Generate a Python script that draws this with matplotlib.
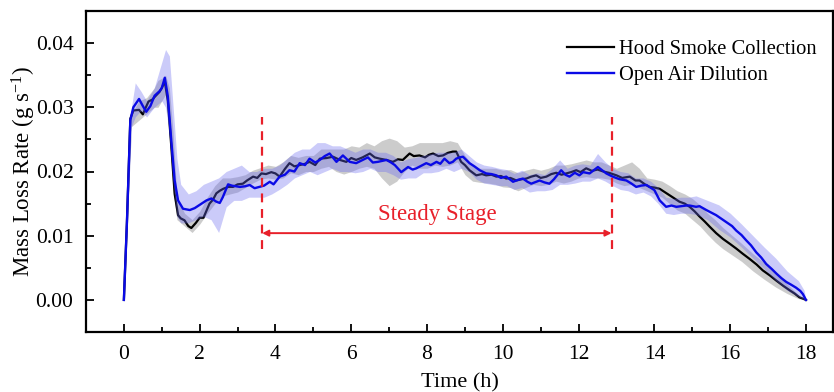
import matplotlib
matplotlib.use('Agg')
import matplotlib.pyplot as plt
from matplotlib.ticker import MultipleLocator, FormatStrFormatter

plt.rcParams['font.family'] = ['Liberation Serif', 'DejaVu Serif']
plt.rcParams['mathtext.fontset'] = 'custom'
plt.rcParams['mathtext.rm'] = 'Liberation Serif'
plt.rcParams['mathtext.it'] = 'Liberation Serif:italic'

# Open air dilution (blue)
open_t = [0.0, 0.08, 0.17, 0.25, 0.4, 0.5, 0.59, 0.7, 0.81, 0.94, 1.0, 1.08, 1.16, 1.25, 1.34,
          1.43, 1.56, 1.74, 1.87, 2.0, 2.18, 2.31, 2.44, 2.53, 2.61, 2.75, 2.85, 3.06, 3.2, 3.32,
          3.45, 3.58, 3.7, 3.85, 3.95, 4.11, 4.25, 4.37, 4.5, 4.64, 4.78, 4.9, 5.05, 5.17, 5.3,
          5.43, 5.61, 5.78, 5.96, 6.13, 6.3, 6.44, 6.57, 6.7, 6.93, 7.05, 7.15, 7.32, 7.5, 7.62,
          7.72, 7.85, 7.98, 8.1, 8.25, 8.35, 8.46, 8.59, 8.68, 8.77, 8.86, 8.95, 9.12, 9.25, 9.39,
          9.56, 9.7, 9.83, 9.95, 10.09, 10.27, 10.4, 10.53, 10.65, 10.75, 10.97, 11.1, 11.23, 11.35,
          11.54, 11.65, 11.76, 11.9, 12.02, 12.12, 12.29, 12.4, 12.51, 12.62, 12.73, 12.9, 13.08,
          13.26, 13.4, 13.52, 13.65, 13.79, 14.0, 14.14, 14.31, 14.45, 14.58, 14.72, 14.84, 14.93,
          15.1, 15.19, 15.37, 15.5, 15.63, 15.9, 16.05, 16.16, 16.3, 16.42, 16.55, 16.69, 16.82,
          16.95, 17.1, 17.22, 17.35, 17.48, 17.6, 17.74, 17.85, 17.92, 18.0]
open_mlr = [0.0, 0.012, 0.0280, 0.0300, 0.0313, 0.0302, 0.0293, 0.0302, 0.0318, 0.0325, 0.0330,
            0.0346, 0.0317, 0.0249, 0.0186, 0.0155, 0.0142, 0.0140, 0.0143, 0.0148, 0.0155, 0.0158,
            0.0153, 0.0151, 0.0160, 0.0180, 0.0178, 0.0176, 0.0177, 0.0179, 0.0174, 0.0176, 0.0178,
            0.0184, 0.0180, 0.0192, 0.0195, 0.0202, 0.0200, 0.0213, 0.0210, 0.0220, 0.0214, 0.0218,
            0.0224, 0.0228, 0.0215, 0.0225, 0.0215, 0.0213, 0.0218, 0.0222, 0.0214, 0.0215, 0.0218,
            0.0214, 0.0210, 0.0199, 0.0207, 0.0203, 0.0205, 0.0209, 0.0213, 0.0210, 0.0215, 0.0212,
            0.0220, 0.0213, 0.0215, 0.0220, 0.0222, 0.0223, 0.0213, 0.0208, 0.0202, 0.0197, 0.0196,
            0.0194, 0.0190, 0.0192, 0.0184, 0.0187, 0.0189, 0.0184, 0.0181, 0.0186, 0.0183, 0.0181,
            0.0188, 0.0202, 0.0195, 0.0192, 0.0198, 0.0194, 0.0199, 0.0197, 0.0202, 0.0207, 0.0202,
            0.0197, 0.0192, 0.0188, 0.0186, 0.0181, 0.0176, 0.0178, 0.0179, 0.0171, 0.0155, 0.0145,
            0.0147, 0.0145, 0.0146, 0.0147, 0.0147, 0.0145, 0.0146, 0.0140, 0.0136, 0.0132, 0.0121,
            0.0115, 0.0108, 0.0101, 0.0093, 0.0085, 0.0074, 0.0066, 0.0056, 0.0048, 0.0041, 0.0034,
            0.0028, 0.0024, 0.0019, 0.0014, 0.0009, 0.0]

# Hood smoke collection (black)
hood_t = [0.0, 0.08, 0.17, 0.25, 0.4, 0.5, 0.58, 0.65, 0.75, 0.81, 0.94, 1.0, 1.08, 1.16, 1.25,
          1.34, 1.43, 1.5, 1.6, 1.7, 1.78, 1.9, 2.0, 2.1, 2.26, 2.35, 2.44, 2.53, 2.62, 2.75, 2.88,
          3.0, 3.14, 3.25, 3.41, 3.52, 3.63, 3.75, 3.89, 4.0, 4.11, 4.25, 4.37, 4.5, 4.64, 4.78, 4.9,
          5.05, 5.17, 5.35, 5.52, 5.7, 5.87, 6.0, 6.13, 6.3, 6.49, 6.62, 6.75, 6.93, 7.1, 7.23, 7.36,
          7.54, 7.65, 7.8, 7.95, 8.05, 8.16, 8.3, 8.42, 8.55, 8.68, 8.77, 8.9, 9.0, 9.12, 9.3, 9.45,
          9.56, 9.7, 9.83, 9.95, 10.09, 10.2, 10.36, 10.5, 10.62, 10.75, 10.88, 11.0, 11.15, 11.28,
          11.41, 11.55, 11.68, 11.8, 11.94, 12.05, 12.2, 12.35, 12.5, 12.65, 12.8, 13.0, 13.15,
          13.35, 13.5, 13.61, 13.75, 13.87, 14.0, 14.14, 14.27, 14.4, 14.53, 14.66, 14.8, 14.93,
          15.06, 15.19, 15.33, 15.46, 15.63, 15.81, 16.0, 16.16, 16.33, 16.51, 16.7, 16.86, 17.05,
          17.22, 17.4, 17.57, 17.7, 17.83, 17.92, 18.0]
hood_mlr = [0.0, 0.012, 0.0282, 0.0295, 0.0296, 0.0289, 0.0300, 0.0309, 0.0312, 0.0316, 0.0324,
            0.0330, 0.0340, 0.0310, 0.0240, 0.0165, 0.0132, 0.0127, 0.0124, 0.0115, 0.0112, 0.0120,
            0.0128, 0.0128, 0.0150, 0.0156, 0.0166, 0.0170, 0.0173, 0.0176, 0.0176, 0.0180, 0.0181,
            0.0186, 0.0192, 0.0190, 0.0197, 0.0196, 0.0199, 0.0197, 0.0192, 0.0204, 0.0213, 0.0208,
            0.0210, 0.0212, 0.0215, 0.0210, 0.0220, 0.0221, 0.0223, 0.0218, 0.0215, 0.0221, 0.0218,
            0.0222, 0.0228, 0.0222, 0.0220, 0.0218, 0.0215, 0.0219, 0.0218, 0.0228, 0.0224, 0.0225,
            0.0222, 0.0226, 0.0228, 0.0224, 0.0225, 0.0229, 0.0231, 0.0231, 0.0215, 0.0210, 0.0202,
            0.0194, 0.0196, 0.0194, 0.0195, 0.0192, 0.0193, 0.0189, 0.0190, 0.0186, 0.0188, 0.0189,
            0.0192, 0.0194, 0.0190, 0.0192, 0.0196, 0.0198, 0.0195, 0.0197, 0.0199, 0.0202, 0.0199,
            0.0205, 0.0201, 0.0203, 0.0200, 0.0198, 0.0194, 0.0190, 0.0192, 0.0186, 0.0186, 0.0180,
            0.0176, 0.0175, 0.0173, 0.0168, 0.0163, 0.0158, 0.0153, 0.0150, 0.0145, 0.0138, 0.0130,
            0.0122, 0.0114, 0.0104, 0.0095, 0.0087, 0.0080, 0.0072, 0.0064, 0.0055, 0.0046, 0.0038,
            0.0030, 0.0022, 0.0015, 0.0010, 0.0004, 0.0002, 0.0]

# spread bands (lower / upper edge)
open_band_t = [0.0, 0.1, 0.2, 0.3, 0.45, 0.6, 0.8, 1.0, 1.1, 1.2, 1.3, 1.4, 1.5, 1.7, 1.9, 2.1,
               2.3, 2.5, 2.7, 2.9, 3.1, 3.3, 3.5, 3.7, 3.9, 4.1, 4.3, 4.5, 4.7, 4.9, 5.1, 5.3, 5.5,
               5.7, 5.9, 6.1, 6.3, 6.5, 6.7, 6.9, 7.1, 7.3, 7.5, 7.7, 7.9, 8.1, 8.3, 8.5, 8.7, 8.9,
               9.1, 9.3, 9.5, 9.7, 9.9, 10.1, 10.3, 10.5, 10.7, 10.9, 11.1, 11.3, 11.5, 11.7, 11.9,
               12.1, 12.3, 12.5, 12.7, 12.9, 13.1, 13.3, 13.5, 13.7, 13.9, 14.1, 14.3, 14.5, 14.7,
               14.9, 15.1, 15.4, 15.7, 16.0, 16.3, 16.6, 16.9, 17.2, 17.5, 17.8, 17.95, 18.0]
open_lo = [0.0, 0.013, 0.027, 0.0285, 0.0295, 0.0285, 0.030, 0.031, 0.030, 0.026, 0.018, 0.013,
           0.012, 0.012, 0.0125, 0.013, 0.0125, 0.0105, 0.0145, 0.0155, 0.0155, 0.016, 0.016,
           0.016, 0.0165, 0.0172, 0.018, 0.019, 0.0195, 0.020, 0.0195, 0.020, 0.0205, 0.020, 0.020,
           0.0198, 0.020, 0.0205, 0.020, 0.020, 0.0195, 0.0188, 0.019, 0.019, 0.0198, 0.0198,
           0.020, 0.0205, 0.020, 0.0205, 0.020, 0.0188, 0.0182, 0.018, 0.0178, 0.0178, 0.0172,
           0.0175, 0.0168, 0.017, 0.017, 0.0172, 0.018, 0.018, 0.0182, 0.0185, 0.0185, 0.019,
           0.0185, 0.0178, 0.0172, 0.017, 0.0165, 0.0168, 0.0162, 0.015, 0.0135, 0.0133, 0.0135,
           0.0135, 0.0133, 0.0125, 0.011, 0.0098, 0.0082, 0.0065, 0.0048, 0.003, 0.0015, 0.0005,
           0.0, 0.0]
open_hi = [0.0, 0.019, 0.030, 0.0338, 0.0325, 0.031, 0.033, 0.037, 0.039, 0.038, 0.030, 0.022,
           0.018, 0.0165, 0.017, 0.018, 0.0185, 0.019, 0.020, 0.0205, 0.021, 0.020, 0.020, 0.0205,
           0.0205, 0.021, 0.022, 0.023, 0.0235, 0.0235, 0.0245, 0.0245, 0.024, 0.024, 0.0235,
           0.023, 0.0235, 0.0235, 0.023, 0.023, 0.0225, 0.0215, 0.022, 0.0222, 0.0225, 0.0228,
           0.023, 0.023, 0.023, 0.0235, 0.0225, 0.0215, 0.021, 0.0208, 0.0205, 0.0203, 0.0197,
           0.0202, 0.0195, 0.0198, 0.0195, 0.0205, 0.0218, 0.0205, 0.021, 0.0212, 0.021, 0.0228,
           0.0215, 0.0205, 0.020, 0.0198, 0.019, 0.019, 0.0185, 0.0175, 0.016, 0.0158, 0.016,
           0.016, 0.0162, 0.0155, 0.0148, 0.0135, 0.0118, 0.010, 0.0082, 0.0065, 0.0045, 0.003,
           0.0015, 0.0]

hood_band_t = [0.0, 0.2, 0.4, 0.6, 0.8, 0.9, 1.0, 1.1, 1.2, 1.3, 1.4, 1.6, 1.8, 2.0, 2.2, 2.4,
               2.6, 2.8, 3.0, 3.2, 3.4, 3.6, 3.8, 4.0, 4.2, 4.4, 4.6, 4.8, 5.0, 5.2, 5.4, 5.6, 5.8,
               6.0, 6.2, 6.4, 6.6, 6.8, 7.0, 7.2, 7.4, 7.6, 7.8, 8.0, 8.2, 8.4, 8.6, 8.8, 9.0, 9.2,
               9.4, 9.6, 9.8, 10.0, 10.2, 10.4, 10.6, 10.8, 11.0, 11.2, 11.4, 11.6, 11.8, 12.0, 12.2,
               12.4, 12.6, 12.8, 13.0, 13.2, 13.4, 13.6, 13.8, 14.0, 14.2, 14.4, 14.6, 14.8, 15.0,
               15.2, 15.4, 15.6, 15.8, 16.0, 16.3, 16.6, 16.9, 17.2, 17.5, 17.8, 18.0]
hood_lo = [0.0, 0.027, 0.028, 0.029, 0.030, 0.030, 0.031, 0.032, 0.026, 0.017, 0.0125, 0.0115,
           0.0105, 0.0118, 0.0135, 0.015, 0.0162, 0.0165, 0.0168, 0.0175, 0.0182, 0.0188, 0.019,
           0.0188, 0.019, 0.0198, 0.0195, 0.020, 0.020, 0.0205, 0.0208, 0.020, 0.0196, 0.020,
           0.0205, 0.0208, 0.0205, 0.019, 0.0178, 0.0185, 0.020, 0.021, 0.0205, 0.0205, 0.021,
           0.0208, 0.021, 0.0215, 0.0195, 0.0185, 0.0183, 0.0182, 0.018, 0.0176, 0.0175, 0.017,
           0.0175, 0.018, 0.0178, 0.018, 0.0185, 0.0182, 0.0185, 0.019, 0.0192, 0.019, 0.019,
           0.0188, 0.0182, 0.0178, 0.018, 0.0175, 0.017, 0.0165, 0.016, 0.015, 0.014, 0.0135,
           0.0125, 0.0115, 0.0102, 0.009, 0.008, 0.0072, 0.006, 0.0045, 0.0032, 0.002, 0.001,
           0.0002, 0.0]
hood_hi = [0.0, 0.029, 0.031, 0.0315, 0.033, 0.0342, 0.0345, 0.035, 0.033, 0.026, 0.016, 0.0135,
           0.0125, 0.0138, 0.016, 0.0178, 0.019, 0.019, 0.0192, 0.0195, 0.0202, 0.0206, 0.021,
           0.0208, 0.0215, 0.0225, 0.0222, 0.0225, 0.0225, 0.0235, 0.0235, 0.0235, 0.0235, 0.024,
           0.0238, 0.0245, 0.024, 0.0248, 0.0252, 0.0248, 0.0238, 0.024, 0.0245, 0.0245, 0.0245,
           0.0245, 0.0248, 0.0245, 0.0225, 0.021, 0.0205, 0.0205, 0.0205, 0.0202, 0.0203, 0.0198,
           0.0202, 0.0205, 0.0202, 0.0205, 0.021, 0.021, 0.0212, 0.0215, 0.0218, 0.0215, 0.0215,
           0.021, 0.0205, 0.021, 0.0215, 0.0205, 0.019, 0.0188, 0.0185, 0.0178, 0.017, 0.0165,
           0.0158, 0.0148, 0.0135, 0.0125, 0.0113, 0.0103, 0.0088, 0.0072, 0.0058, 0.0042, 0.0025,
           0.0008, 0.0]

steady_start = 3.65
steady_end = 12.87

fig = plt.figure(figsize=(8.34, 3.92), dpi=100)
ax = fig.add_axes([0.1031, 0.153, 0.896, 0.819])

ax.fill_between(hood_band_t, hood_lo, hood_hi, color='#9a9a9a', alpha=0.5, lw=0, zorder=1)
ax.plot(hood_t, hood_mlr, color='black', lw=1.6, label='Hood Smoke Collection', zorder=2)
ax.fill_between(open_band_t, open_lo, open_hi, color='#6a6af0', alpha=0.35, lw=0, zorder=3)
ax.plot(open_t, open_mlr, color='#0a0ae6', lw=1.7, label='Open Air Dilution', zorder=4)

# steady stage marker
red = '#e8202a'
for xs in (steady_start, steady_end):
    ax.plot([xs, xs], [0.0080, 0.0285], color=red, lw=1.6, ls=(0, (4, 3)), zorder=5)
ax.annotate('', xy=(steady_start, 0.0104), xytext=(steady_end, 0.0104),
            arrowprops=dict(arrowstyle='<|-|>', color=red, lw=1.4,
                            mutation_scale=9, shrinkA=0, shrinkB=0), zorder=5)
ax.text((steady_start + steady_end) / 2, 0.0133, 'Steady Stage', color=red,
        fontsize=16.5, ha='center', va='center')

ax.set_xlim(-1.0, 18.72)
ax.set_ylim(-0.005, 0.045)
ax.xaxis.set_major_locator(MultipleLocator(2))
ax.xaxis.set_minor_locator(MultipleLocator(1))
ax.yaxis.set_major_locator(MultipleLocator(0.01))
ax.yaxis.set_minor_locator(MultipleLocator(0.005))
ax.yaxis.set_major_formatter(FormatStrFormatter('%.2f'))
ax.tick_params(which='both', direction='in', width=1.3, labelsize=15.5)
ax.tick_params(which='major', length=6)
ax.tick_params(which='minor', length=3.5)
ax.tick_params(axis='x', pad=9)
ax.tick_params(axis='y', pad=9)
for s in ax.spines.values():
    s.set_linewidth(1.6)

ax.set_xlabel('Time (h)', fontsize=16, labelpad=7)
ax.set_ylabel('Mass Loss Rate (g s$^{-1}$)', fontsize=16.5, labelpad=-1.5)

ax.legend(loc='upper left', bbox_to_anchor=(567 / 834, 1 - 40 / 392),
          bbox_transform=fig.transFigure, frameon=False, fontsize=14.8,
          handlelength=2.3, handletextpad=0.25, labelspacing=0.32, borderpad=0,
          borderaxespad=0)

fig.savefig('out.png', dpi=100)
